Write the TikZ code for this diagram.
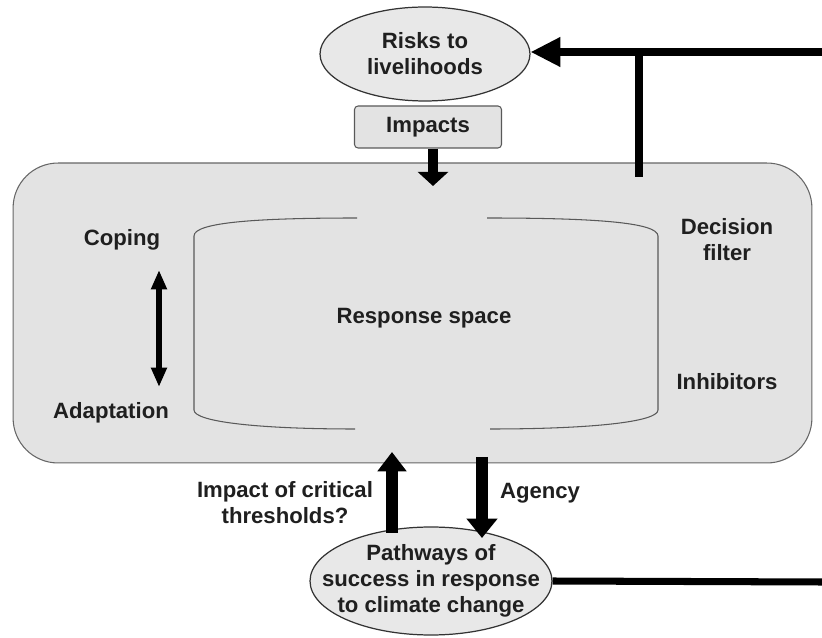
\documentclass[tikz,border=0pt]{standalone}
\usepackage{fontspec}
\setmainfont{Liberation Sans}
\usetikzlibrary{shapes.geometric}
\usetikzlibrary{positioning}
\usetikzlibrary{arrows.meta}

\begin{document}
\begin{tikzpicture}[x=0.02cm, y=-0.02cm,
        every node/.style={font=\bfseries\fontsize{12.6}{14.7}\selectfont, text=black!88, align=center},
        bubble/.style={ellipse, draw=black!80, line width=0.7pt, fill=black!9, inner sep=0pt},
        panel/.style={rectangle, rounded corners=0.9cm, draw=black!60, line width=0.6pt, fill=black!11, inner sep=0pt},
        tab/.style={rectangle, rounded corners=2pt, draw=black!65, line width=0.6pt, fill=black!11, minimum width=2.94cm, minimum height=0.84cm},
        cyl/.style={draw=black!65, line width=0.6pt},
        feed/.style={line width=4pt},
        push/.style={line width=6.8pt, -{Triangle[length=11pt, width=16pt]}},
        swing/.style={line width=3.4pt, {Triangle[length=11pt, width=8.5pt]}-{Triangle[length=11pt, width=8.5pt]}}]
        \useasboundingbox (0,0) rectangle (822,638);

        \node[panel, minimum width=15.98cm, minimum height=6cm] (arena) at (412.5,313) {};
        \draw[cyl] (357,218) .. controls (260,218) and (194,222) .. (194,236) -- (194,410)
            .. controls (194,422) and (260,429) .. (355,429);
        \draw[cyl] (487,218) .. controls (590,218) and (658,222) .. (658,236) -- (658,410)
            .. controls (658,422) and (590,429) .. (490,429);

        \node[bubble, minimum width=4.2cm, minimum height=1.88cm] (risks) at (425,54) {Risks to\\livelihoods};
        \node[tab] (impacts) at (428,127) {Impacts};
        \node[bubble, minimum width=4.84cm, minimum height=2.16cm] (pathways) at (431,581) {};
        \node (pathtext) at (pathways.center) {Pathways of\\success in response\\to climate change};

        \node (space) at (424,318) {Response space};
        \node (coping) at (122,240) {Coping};
        \node (adapt) at (111,413) {Adaptation};
        \node (decision) at (727,240) {Decision\\filter};
        \node (inhibit) at (727,382) {Inhibitors};
        \node (critical) at (285,503) {Impact of critical\\thresholds?};
        \node (agency) at (540,493) {Agency};

        \coordinate (fbin) at (822,52);
        \coordinate (fbsplit) at (639,52);
        \coordinate (fbfoot) at (639,177);
        \coordinate (spacetop) at (433,186);
        \coordinate (upfoot) at (392,533);
        \coordinate (uptip) at (392,452);
        \coordinate (downfoot) at (482,457);
        \coordinate (downtip) at (482,538);
        \coordinate (pwout) at (822,582);
        \coordinate (swingtop) at (159,270);
        \coordinate (swingbot) at (159,387);

        \draw[feed, -{Triangle[length=17pt, width=16pt]}] (fbin) -- (fbin -| risks.east);
        \draw[feed] (fbsplit) -- (fbfoot);
        \draw[line width=5.7pt, -{Triangle[length=8pt, width=17pt]}] (impacts.south -| spacetop) -- (spacetop);
        \draw[push] (upfoot) -- (uptip);
        \draw[push, -{Triangle[length=11pt, width=17pt]}] (downfoot) -- (downtip);
        \draw[feed] (pathways.east) -- (pwout);
        \draw[swing] (swingtop) -- (swingbot);
\end{tikzpicture}
\end{document}
